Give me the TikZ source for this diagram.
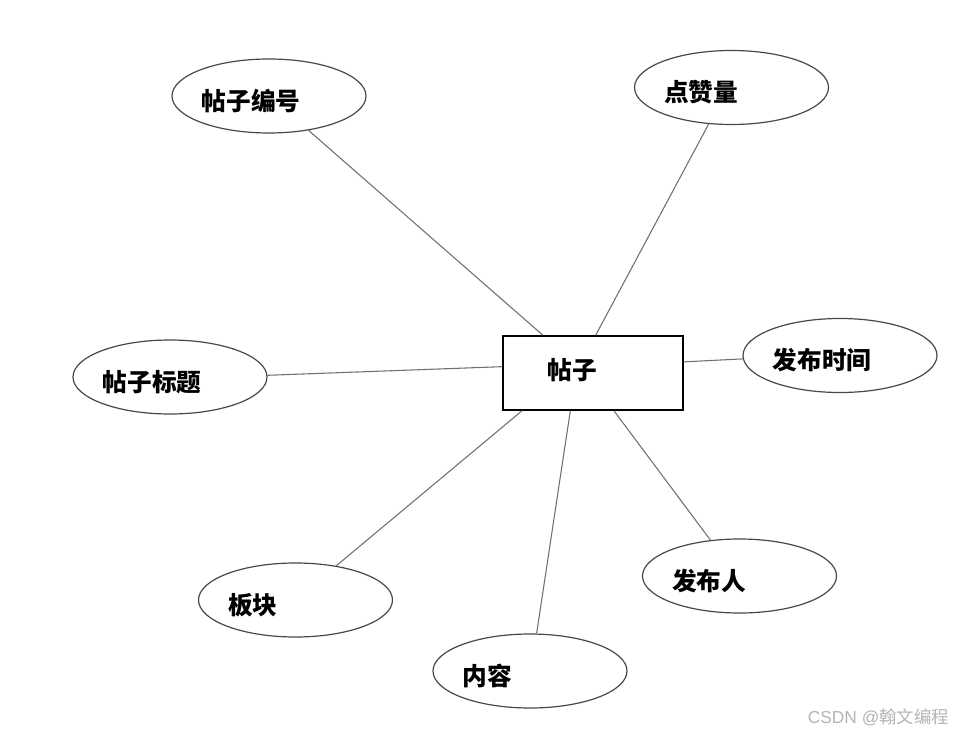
\documentclass[tikz,border=0pt]{standalone}
\usepackage{fontspec}
\newfontfamily\cjk{Noto Sans CJK SC}
\newfontfamily\wmlat{Liberation Sans}
\usetikzlibrary{shapes.geometric}
\definecolor{linegray}{RGB}{112,112,112}
\definecolor{ellgray}{RGB}{72,72,72}
\definecolor{wmgray}{RGB}{180,180,180}
\tikzset{
  attr/.style={ellipse, draw=ellgray, line width=0.9pt, minimum width=145.5pt, minimum height=55.5pt, inner sep=0pt},
  entity/.style={rectangle, draw=black, line width=1.1pt, minimum width=135pt, minimum height=55.5pt, inner sep=0pt},
  lbl/.style={inner sep=0pt, anchor=west, font=\cjk\bfseries\fontsize{18.5pt}{20pt}\selectfont},
  conn/.style={draw=linegray, line width=0.8pt},
}
\begin{document}
\begin{tikzpicture}[x=0.75pt,y=-0.75pt]
\fill[white] (0,0) rectangle (955,734);
\useasboundingbox (0,0) rectangle (955,734);
\node[entity] (r) at (593,373) {};
\node[attr] (e1) at (269,96) {};
\node[attr] (e2) at (731.5,87.5) {};
\node[attr] (e3) at (840,355.5) {};
\node[attr] (e4) at (170,377) {};
\node[attr] (e5) at (295.5,600) {};
\node[attr] (e6) at (530,671) {};
\node[attr] (e7) at (739.5,576) {};
\node[lbl] (t0) at ([xshift=33.75pt,yshift=2.25pt]r.west) {帖子};
\node[lbl] (t1) at ([xshift=22.5pt,yshift=-3.75pt]e1.west) {帖子编号};
\node[lbl] (t2) at ([xshift=22.5pt,yshift=-3.75pt]e2.west) {点赞量};
\node[lbl] (t3) at ([xshift=22.5pt,yshift=-3.75pt]e3.west) {发布时间};
\node[lbl] (t4) at ([xshift=22.5pt,yshift=-3.75pt]e4.west) {帖子标题};
\node[lbl] (t5) at ([xshift=22.5pt,yshift=-3.75pt]e5.west) {板块};
\node[lbl] (t6) at ([xshift=22.5pt,yshift=-3.75pt]e6.west) {内容};
\node[lbl] (t7) at ([xshift=22.5pt,yshift=-3.75pt]e7.west) {发布人};
\draw[conn] (e1.-41.3) -- (r.143.5);
\draw[conn] (e2.-122) -- (r.86.9);
\draw[conn] (e3.182.7) -- (r.7);
\draw[conn] (e4.1.2) -- (r.176.8);
\draw[conn] (e5.40) -- (r.-152.1);
\draw[conn] (e6.80.8) -- (r.-121.9);
\draw[conn] (e7.129.3) -- (r.-61.6);
\node[inner sep=0pt, anchor=east, text=wmgray, font=\fontsize{13pt}{15pt}\selectfont] (wm) at (949,717) {\wmlat CSDN @\cjk 翰文编程};
\end{tikzpicture}
\end{document}
